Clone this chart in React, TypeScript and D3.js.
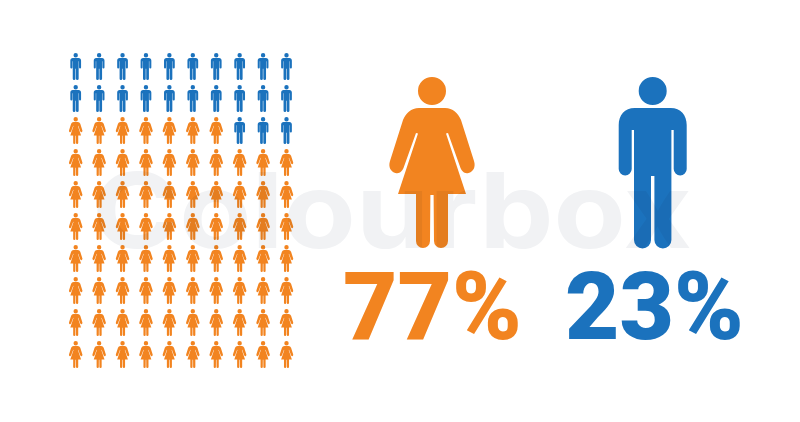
import React from "react";
import * as d3 from "d3";

const shares = [77, 23];
const shareLabels = ["77%", "23%"];
const groups = ["women", "men"];
const colors = ["#f28420", "#1b72bd"];
const gridCols = d3.range(10);
const gridRows = d3.range(10);
const watermark = "Colourbox";

const W = 800, H = 422;
const FIG_H = 171;

const womanHalf = (s: number) => {
  const x = (v: number) => s * v;
  return `M0 31 L${x(13)} 31 C${x(21)} 31 ${x(26)} 36 ${x(29)} 43 L${x(42)} 84 C${x(44)} 90 ${x(41)} 95 ${x(36.5)} 96 C${x(32)} 97 ${x(30)} 94 ${x(28.5)} 91 L${x(16)} 56 L${x(14)} 56.5 L${x(34)} 117 L${x(16)} 117 L${x(16)} 164 A7 7 0 0 ${s > 0 ? 1 : 0} ${x(2)} 164 L${x(1.6)} 118 L0 118 Z`;
};
const manHalf = (s: number) => {
  const x = (v: number) => s * v;
  return `M0 31 L${x(18)} 31 C${x(28)} 31 ${x(34)} 38 ${x(34)} 48 L${x(34)} 92 A6.5 6.5 0 0 ${s > 0 ? 1 : 0} ${x(21)} 92 L${x(21)} 53 L${x(18.7)} 53 L${x(18.7)} 163 A8.5 8.5 0 0 ${s > 0 ? 1 : 0} ${x(1.7)} 163 L${x(1.7)} 99 L0 99 Z`;
};
const head = "M-14 14 a14 14 0 1 0 28 0 a14 14 0 1 0 -28 0 Z";
const figurePaths = [
  `${head} ${womanHalf(1)} ${womanHalf(-1)}`,
  `${head} ${manHalf(1)} ${manHalf(-1)}`,
];

export default function App() {
  const xGrid = d3.scalePoint<number>().domain(gridCols).range([75.7, 286.5]);
  const yGrid = d3.scalePoint<number>().domain(gridRows).range([53, 341]);
  const smallHeight = d3.scaleLinear().domain([0, FIG_H]).range([0, 27]);
  const k = smallHeight(1);
  const xBig = d3.scaleOrdinal<string, number>().domain(groups).range([432, 652.7]);
  const xLabel = d3.scaleOrdinal<string, number>().domain(groups).range([343, 565]);

  const menCount = shares[1];
  const cells = gridRows.flatMap((r) =>
    gridCols.map((c) => {
      const indexFromTop = r * gridCols.length + (gridCols.length - 1 - c);
      return { r, c, g: indexFromTop < menCount ? 1 : 0 };
    })
  );

  return (
    <svg
      width={W}
      height={H}
      viewBox={`0 0 ${W} ${H}`}
      style={{ position: "absolute", left: 0, top: 0, background: "#fff", isolation: "isolate" }}
    >
      {cells.map((d) => (
        <path
          key={`${d.r}-${d.c}`}
          d={figurePaths[d.g]}
          fill={colors[d.g]}
          transform={`translate(${xGrid(d.c)},${yGrid(d.r)}) scale(${k})`}
        />
      ))}
      {groups.map((g, i) => (
        <path key={g} d={figurePaths[i]} fill={colors[i]} transform={`translate(${xBig(g)},77)`} />
      ))}
      {groups.map((g, i) => (
        <text
          key={g}
          x={xLabel(g)}
          y={339}
          fill={colors[i]}
          fontFamily="Roboto, Inter, sans-serif"
          fontWeight={900}
          fontSize={94}
        >
          {shareLabels[i]}
        </text>
      ))}
      <text
        x={92}
        y={248}
        fill="#f1f2f4"
        fontFamily="Inter, 'Noto Sans', sans-serif"
        fontWeight={700}
        fontSize={105}
        textLength={600}
        lengthAdjust="spacingAndGlyphs"
        style={{ mixBlendMode: "multiply" }}
      >
        {watermark}
      </text>
    </svg>
  );
}
